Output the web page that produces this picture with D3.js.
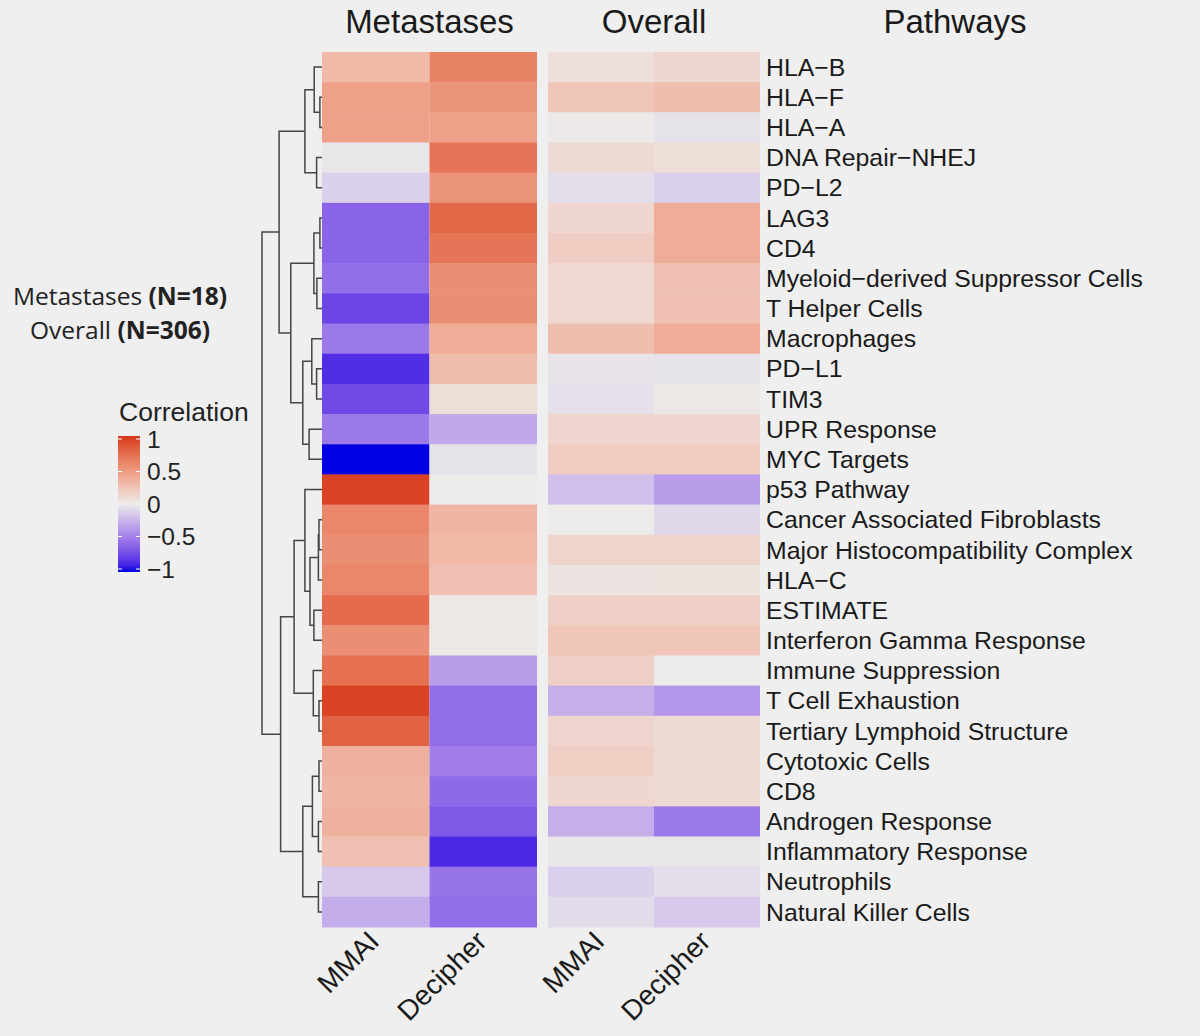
<!DOCTYPE html>
<html>
<head>
<meta charset="utf-8">
<script src="https://cdn.jsdelivr.net/npm/d3@7"></script>
<style>
  html, body { margin: 0; padding: 0; background: #efefef; }
  svg { display: block; font-family: "Liberation Sans", Arial, sans-serif; }
</style>
</head>
<body>
<svg id="chart" width="1200" height="1036"></svg>
<script>
// row order as shown (follows the dendrogram)
const rows = [
  "HLA−B", "HLA−F", "HLA−A", "DNA Repair−NHEJ", "PD−L2", "LAG3", "CD4",
  "Myeloid−derived Suppressor Cells", "T Helper Cells", "Macrophages", "PD−L1",
  "TIM3", "UPR Response", "MYC Targets", "p53 Pathway", "Cancer Associated Fibroblasts",
  "Major Histocompatibility Complex", "HLA−C", "ESTIMATE", "Interferon Gamma Response",
  "Immune Suppression", "T Cell Exhaustion", "Tertiary Lymphoid Structure",
  "Cytotoxic Cells", "CD8", "Androgen Response", "Inflammatory Response",
  "Neutrophils", "Natural Killer Cells"
];

const columns = ["MMAI", "Decipher"];
const panels = ["Metastases", "Overall"];

// correlations
const metMMAI = [0.30, 0.45, 0.45, -0.02, -0.12, -0.62, -0.62, -0.57, -0.76, -0.52,
  -0.86, -0.74, -0.52, -1.00, 0.95, 0.60, 0.55, 0.60, 0.75, 0.55,
  0.72, 0.95, 0.80, 0.35, 0.33, 0.35, 0.25, -0.15, -0.28];
const metDecipher = [0.62, 0.52, 0.45, 0.70, 0.52, 0.77, 0.70, 0.55, 0.55, 0.38,
  0.28, 0.08, -0.30, -0.04, 0.00, 0.33, 0.30, 0.25, 0.02, 0.02,
  -0.35, -0.57, -0.57, -0.50, -0.59, -0.67, -0.88, -0.54, -0.57];
const ovMMAI = [0.07, 0.22, 0.01, 0.10, -0.06, 0.12, 0.18, 0.11, 0.11, 0.27,
  -0.03, -0.05, 0.13, 0.18, -0.20, 0.00, 0.14, 0.04, 0.16, 0.22,
  0.16, -0.27, 0.13, 0.17, 0.12, -0.27, -0.02, -0.12, -0.07];
const ovDecipher = [0.12, 0.27, -0.04, 0.08, -0.12, 0.37, 0.37, 0.25, 0.25, 0.38,
  -0.04, 0.02, 0.13, 0.18, -0.35, -0.08, 0.14, 0.05, 0.16, 0.22,
  0.00, -0.38, 0.10, 0.10, 0.10, -0.52, -0.02, -0.06, -0.15];

// row dendrogram: [merge height, left, right]
const rowTree = [2.0,
  [1.43,
    [0.57, [0.26, "HLA−B", [0.07, "HLA−F", "HLA−A"]], [0.18, "DNA Repair−NHEJ", "PD−L2"]],
    [1.04,
      [0.27, [0.07, "LAG3", "CD4"], [0.17, "Myeloid−derived Suppressor Cells", "T Helper Cells"]],
      [0.64, [0.34, "Macrophages", [0.18, "PD−L1", "TIM3"]], [0.43, "UPR Response", "MYC Targets"]]]],
  [1.38,
    [0.93,
      [0.57, "p53 Pathway",
        [0.40, [0.12, [0.10, "Cancer Associated Fibroblasts", "Major Histocompatibility Complex"], "HLA−C"],
               [0.27, "ESTIMATE", "Interferon Gamma Response"]]],
      [0.29, "Immune Suppression", [0.10, "T Cell Exhaustion", "Tertiary Lymphoid Structure"]]],
    [0.64,
      [0.32, [0.10, "Cytotoxic Cells", "CD8"], [0.12, "Androgen Response", "Inflammatory Response"]],
      [0.12, "Neutrophils", "Natural Killer Cells"]]]];

const legendTicks = [1, 0.5, 0, -0.5, -1];

const svg = d3.select("#chart");

const color = d3.scaleLinear()
  .domain([-1, 0, 1])
  .range(["#0000e2", "#ecebea", "#d6361a"])
  .interpolate(d3.interpolateLab)
  .clamp(true);

// scales
const y = d3.scaleBand().domain(rows).range([52, 927]);
const xPanel = {
  Metastases: d3.scaleBand().domain(columns).range([322, 537]),
  Overall: d3.scaleBand().domain(columns).range([548, 760])
};
const values = {
  Metastases: { MMAI: metMMAI, Decipher: metDecipher },
  Overall: { MMAI: ovMMAI, Decipher: ovDecipher }
};

// HEATMAP
panels.forEach(p => {
  const x = xPanel[p];
  const g = svg.append("g").attr("class", "panel");
  columns.forEach(c => {
    g.selectAll(null)
      .data(rows.map((r, i) => ({ r, v: values[p][c][i] })))
      .enter()
      .append("rect")
      .attr("x", x(c))
      .attr("y", d => y(d.r))
      .attr("width", x.bandwidth())
      .attr("height", y.bandwidth() + 0.5)
      .attr("fill", d => color(d.v));
  });

  // column labels
  columns.forEach(c => {
    svg.append("text")
      .attr("transform", `translate(${x(c) + x.bandwidth() / 2 + 5},${943}) rotate(-45)`)
      .attr("text-anchor", "end")
      .style("font-size", "28px")
      .attr("fill", "#1a1a1a")
      .text(c);
  });

  // panel title
  svg.append("text")
    .attr("x", (x.range()[0] + x.range()[1]) / 2)
    .attr("y", 33)
    .attr("text-anchor", "middle")
    .style("font-size", "33px")
    .attr("fill", "#1a1a1a")
    .text(p);
});

svg.append("text")
  .attr("x", 955).attr("y", 33)
  .attr("text-anchor", "middle")
  .style("font-size", "33px")
  .attr("fill", "#1a1a1a")
  .text("Pathways");

// row labels
svg.append("g")
  .selectAll("text")
  .data(rows)
  .enter()
  .append("text")
  .attr("x", 766)
  .attr("y", d => y(d) + y.bandwidth() / 2)
  .attr("dy", "0.35em")
  .style("font-size", "24.8px")
  .attr("fill", "#1a1a1a")
  .text(d => d);

// DENDROGRAM
const root = d3.hierarchy(rowTree, d => Array.isArray(d) ? d.slice(1) : null);
const hx = d3.scaleLinear().domain([0, 2.0]).range([322, 262]);
root.eachAfter(n => {
  if (n.children) {
    n.h = n.data[0];
    n.py = (n.children[0].py + n.children[1].py) / 2;
  } else {
    n.h = 0;
    n.py = y(n.data) + y.bandwidth() / 2;
  }
});
const dendro = svg.append("g")
  .attr("fill", "none")
  .attr("stroke", "#454545")
  .attr("stroke-width", 1.5);
root.each(n => {
  if (!n.children) return;
  const [a, b] = n.children;
  dendro.append("path")
    .attr("d", `M${hx(a.h)},${a.py}H${hx(n.h)}V${b.py}H${hx(b.h)}`);
});

// LEFT ANNOTATION
const note = svg.append("g")
  .style("font-family", "'Open Sans', 'Noto Sans', sans-serif")
  .style("font-size", "24.5px")
  .attr("fill", "#222");
const t1 = note.append("text").attr("x", 120).attr("y", 305).attr("text-anchor", "middle");
t1.append("tspan").text("Metastases ");
t1.append("tspan").style("font-weight", "bold").text("(N=18)");
const t2 = note.append("text").attr("x", 120).attr("y", 339).attr("text-anchor", "middle");
t2.append("tspan").text("Overall ");
t2.append("tspan").style("font-weight", "bold").text("(N=306)");

// LEGEND
svg.append("text")
  .attr("x", 119).attr("y", 421)
  .style("font-size", "26.5px")
  .attr("fill", "#222")
  .text("Correlation");

const ly = d3.scaleLinear().domain([1, -1]).range([439, 569]);
const grad = svg.append("defs").append("linearGradient")
  .attr("id", "corrGrad")
  .attr("x1", 0).attr("y1", 0).attr("x2", 0).attr("y2", 1);
d3.range(0, 21).forEach(i => {
  const v = 1 - i / 10;
  grad.append("stop").attr("offset", i / 20).attr("stop-color", color(v));
});
svg.append("rect")
  .attr("x", 118).attr("y", ly(1) - 3)
  .attr("width", 22).attr("height", ly(-1) - ly(1) + 6)
  .attr("fill", "url(#corrGrad)");

const lg = svg.append("g");
legendTicks.forEach(t => {
  lg.append("line").attr("x1", 118).attr("x2", 122).attr("y1", ly(t)).attr("y2", ly(t))
    .attr("stroke", "#fff").attr("stroke-width", 1);
  lg.append("line").attr("x1", 136).attr("x2", 140).attr("y1", ly(t)).attr("y2", ly(t))
    .attr("stroke", "#fff").attr("stroke-width", 1);
  lg.append("text")
    .attr("x", 147).attr("y", ly(t))
    .attr("dy", "0.35em")
    .style("font-size", "24.5px")
    .attr("fill", "#222")
    .text(t === 0 ? "0" : d3.format("")(t).replace("-", "−"));
});
</script>
</body>
</html>
